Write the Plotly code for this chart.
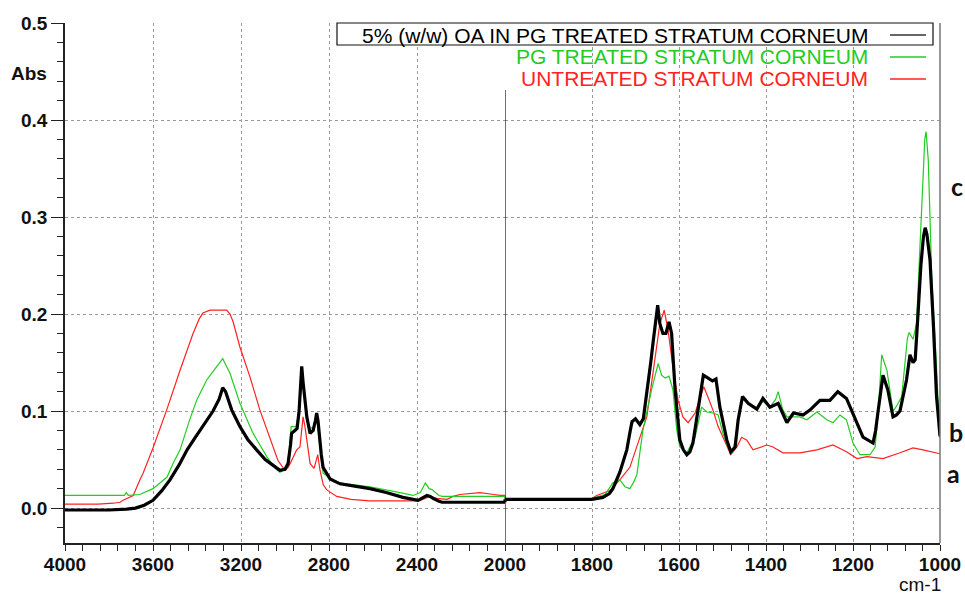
import plotly.graph_objects as go

# ---------------- data ----------------
wn_oa = [4000, 3900, 3800, 3720, 3680, 3640, 3600, 3560, 3523, 3480, 3445, 3410, 3386, 3350, 3327, 3300,
         3283, 3270, 3255, 3242, 3205, 3170, 3129, 3090, 3054, 3023, 3000, 2986, 2975, 2970, 2955, 2945,
         2936, 2928, 2924, 2918, 2913, 2901, 2886, 2872, 2862, 2856, 2850, 2845, 2835, 2827, 2810, 2795,
         2750, 2700, 2614, 2540, 2464, 2395, 2370, 2355, 2340, 2327, 2300, 2286, 2000,
         2000, 1800, 1775, 1760, 1752, 1736, 1720, 1712, 1708, 1700, 1690, 1682, 1674, 1665, 1659, 1652,
         1649, 1644, 1637, 1630, 1623, 1617, 1612, 1609, 1598, 1590, 1582, 1575, 1568, 1556, 1544, 1533,
         1523, 1515, 1506, 1490, 1481, 1471, 1464, 1454, 1441, 1421, 1407, 1391, 1372, 1362, 1352, 1337,
         1315, 1299, 1276, 1253, 1235, 1215, 1191, 1177, 1154, 1148, 1142, 1131, 1120, 1108, 1100, 1092,
         1077, 1069, 1062, 1057, 1050, 1044, 1038, 1034, 1030, 1023, 1015, 1008, 1003, 1000]
abs_oa = [-0.002, -0.002, -0.002, -0.001, 0.000, 0.003, 0.008, 0.018, 0.029, 0.045, 0.060, 0.072, 0.080, 0.092, 0.100, 0.112,
          0.124, 0.120, 0.110, 0.101, 0.084, 0.071, 0.060, 0.050, 0.044, 0.039, 0.040, 0.046, 0.065, 0.077, 0.080, 0.082,
          0.100, 0.135, 0.146, 0.130, 0.118, 0.094, 0.077, 0.080, 0.090, 0.098, 0.090, 0.077, 0.055, 0.042, 0.035, 0.030,
          0.025, 0.023, 0.020, 0.016, 0.011, 0.008, 0.011, 0.013, 0.012, 0.010, 0.007, 0.006, 0.006,
          0.009, 0.009, 0.011, 0.015, 0.020, 0.037, 0.060, 0.080, 0.089, 0.092, 0.086, 0.092, 0.118, 0.150, 0.173, 0.200,
          0.209, 0.190, 0.180, 0.180, 0.192, 0.180, 0.150, 0.122, 0.070, 0.060, 0.055, 0.058, 0.067, 0.100, 0.137, 0.134,
          0.131, 0.133, 0.104, 0.070, 0.058, 0.063, 0.091, 0.115, 0.108, 0.102, 0.113, 0.104, 0.108, 0.098, 0.088, 0.098,
          0.096, 0.101, 0.111, 0.111, 0.120, 0.113, 0.088, 0.073, 0.067, 0.080, 0.101, 0.137, 0.122, 0.094, 0.096, 0.100,
          0.132, 0.158, 0.150, 0.153, 0.204, 0.250, 0.280, 0.289, 0.282, 0.256, 0.187, 0.115, 0.090, 0.074]

wn_pg = [4000, 3800, 3730, 3722, 3712, 3660, 3600, 3536, 3509, 3477, 3432, 3400, 3356, 3320, 3283, 3270,
         3250, 3205, 3145, 3083, 3040, 3023, 2992, 2980, 2972, 2950, 2935, 2924, 2915, 2909, 2895, 2873,
         2862, 2856, 2848, 2841, 2827, 2782, 2750, 2614, 2500, 2418, 2385, 2373, 2362, 2345, 2332, 2300,
         2286, 2000,
         2000, 1800, 1770, 1752, 1736, 1724, 1713, 1705, 1697, 1683, 1663, 1648, 1640, 1632, 1623, 1614,
         1605, 1598, 1582, 1563, 1548, 1536, 1521, 1510, 1499, 1487, 1476, 1466, 1454, 1441, 1421, 1407,
         1391, 1378, 1372, 1362, 1352, 1322, 1306, 1283, 1260, 1246, 1230, 1215, 1200, 1184, 1161, 1149,
         1142, 1134, 1122, 1108, 1100, 1088, 1075, 1071, 1062, 1054, 1046, 1040, 1035, 1032, 1027, 1023,
         1019, 1011, 1005, 1000]
abs_pg = [0.013, 0.013, 0.013, 0.016, 0.013, 0.014, 0.020, 0.032, 0.046, 0.060, 0.092, 0.112, 0.132, 0.143, 0.154, 0.148,
          0.139, 0.108, 0.077, 0.053, 0.040, 0.037, 0.041, 0.060, 0.084, 0.084, 0.100, 0.129, 0.120, 0.108, 0.084, 0.082,
          0.088, 0.094, 0.080, 0.063, 0.036, 0.029, 0.026, 0.022, 0.017, 0.013, 0.016, 0.022, 0.026, 0.020, 0.019, 0.013,
          0.012, 0.012,
          0.009, 0.010, 0.014, 0.026, 0.029, 0.022, 0.020, 0.026, 0.034, 0.080, 0.122, 0.149, 0.137, 0.134, 0.136, 0.122,
          0.080, 0.063, 0.057, 0.073, 0.104, 0.099, 0.098, 0.096, 0.077, 0.062, 0.057, 0.085, 0.112, 0.108, 0.102, 0.110,
          0.104, 0.112, 0.120, 0.102, 0.094, 0.094, 0.091, 0.099, 0.091, 0.088, 0.096, 0.091, 0.067, 0.055, 0.055, 0.063,
          0.100, 0.158, 0.142, 0.100, 0.105, 0.115, 0.175, 0.181, 0.174, 0.190, 0.273, 0.342, 0.380, 0.388, 0.359, 0.300,
          0.238, 0.170, 0.108, 0.072]

wn_un = [4000, 3850, 3780, 3750, 3736, 3690, 3660, 3645, 3600, 3538, 3477, 3418, 3390, 3373, 3341, 3265,
         3250, 3236, 3205, 3159, 3114, 3068, 3032, 3000, 2985, 2970, 2947, 2932, 2918, 2910, 2901, 2886,
         2868, 2858, 2851, 2841, 2826, 2811, 2765, 2700, 2614, 2400, 2386, 2341, 2309, 2264, 2236, 2205,
         2114, 2050, 2023, 2000,
         2000, 1800, 1789, 1759, 1736, 1713, 1694, 1678, 1674, 1659, 1644, 1634, 1625, 1614, 1602, 1591,
         1579, 1563, 1552, 1543, 1533, 1522, 1510, 1494, 1481, 1467, 1456, 1444, 1430, 1398, 1384, 1361,
         1322, 1283, 1246, 1215, 1191, 1168, 1131, 1092, 1062, 1039, 1000]
abs_un = [0.004, 0.004, 0.005, 0.006, 0.008, 0.013, 0.029, 0.036, 0.062, 0.101, 0.142, 0.180, 0.195, 0.201, 0.204, 0.204,
          0.200, 0.192, 0.166, 0.135, 0.101, 0.073, 0.049, 0.039, 0.042, 0.049, 0.060, 0.063, 0.094, 0.085, 0.070, 0.046,
          0.041, 0.050, 0.055, 0.039, 0.024, 0.019, 0.012, 0.009, 0.0075, 0.0075, 0.008, 0.012, 0.010, 0.009, 0.012, 0.014,
          0.016, 0.014, 0.013, 0.013,
          0.009, 0.010, 0.013, 0.018, 0.029, 0.042, 0.067, 0.090, 0.094, 0.142, 0.190, 0.204, 0.183, 0.145, 0.111, 0.094,
          0.088, 0.098, 0.114, 0.125, 0.114, 0.101, 0.084, 0.067, 0.055, 0.063, 0.073, 0.070, 0.060, 0.065, 0.063, 0.057,
          0.057, 0.060, 0.065, 0.058, 0.051, 0.053, 0.051, 0.057, 0.062, 0.060, 0.056]

series_names = ["5% (w/w) OA IN PG TREATED STRATUM CORNEUM",
                "PG TREATED STRATUM CORNEUM",
                "UNTREATED STRATUM CORNEUM"]
curve_labels = ["c", "b", "a"]
left_ticks = [4000, 3600, 3200, 2800, 2400, 2000]
right_ticks = [1800, 1600, 1400, 1200, 1000]
y_ticks = [0.0, 0.1, 0.2, 0.3, 0.4, 0.5]

# ---------------- figure ----------------
BLACK = "#000000"
GREEN = "#22cc22"
RED = "#ff2222"
GRID = "#9a9a9a"
split = 440 / 875

fig = go.Figure()


def add_series(wn, ab, color, width):
    lx = [w for w in wn if w >= 2000]
    ly = [a for w, a in zip(wn, ab) if w >= 2000]
    rx = [w for w in wn if w <= 2000]
    ry = [a for w, a in zip(wn, ab) if w <= 2000]
    fig.add_trace(go.Scatter(x=lx, y=ly, xaxis="x", yaxis="y", mode="lines",
                             line=dict(color=color, width=width), showlegend=False, hoverinfo="skip"))
    fig.add_trace(go.Scatter(x=rx, y=ry, xaxis="x2", yaxis="y", mode="lines",
                             line=dict(color=color, width=width), showlegend=False, hoverinfo="skip"))


add_series(wn_un, abs_un, RED, 1.2)
add_series(wn_pg, abs_pg, GREEN, 1.2)
add_series(wn_oa, abs_oa, BLACK, 3.2)

tickfont = dict(family="Liberation Sans, Arial, sans-serif", size=19, color="#111111", weight="bold")

fig.update_layout(
    width=965, height=596, autosize=False,
    margin=dict(l=65, r=25, t=23, b=53, autoexpand=False),
    paper_bgcolor="white", plot_bgcolor="white",
    xaxis=dict(domain=[0, split], range=[4000, 2000], tickmode="array", tickvals=left_ticks,
               ticks="outside", ticklen=6, tickcolor="#222", showline=True, linecolor="#222", linewidth=1.5,
               showgrid=True, gridcolor=GRID, griddash="3px,3px", gridwidth=1, zeroline=False,
               minor=dict(tickmode="linear", tick0=4000, dtick=80, ticks="outside", ticklen=6,
                          tickcolor="#222", showgrid=False),
               tickfont=tickfont, ticklabelstandoff=-3, anchor="y"),
    xaxis2=dict(domain=[split, 1], range=[2000, 1000], tickmode="array", tickvals=right_ticks,
                ticks="outside", ticklen=6, tickcolor="#222", showline=True, linecolor="#222", linewidth=1.5,
                showgrid=True, gridcolor=GRID, griddash="3px,3px", gridwidth=1, zeroline=False,
                minor=dict(tickmode="linear", tick0=2000, dtick=40, ticks="outside", ticklen=6,
                           tickcolor="#222", showgrid=False),
                tickfont=tickfont, ticklabelstandoff=-3, anchor="y"),
    yaxis=dict(range=[-0.036, 0.5], tickmode="array", tickvals=y_ticks,
               ticktext=[f"{v:.1f}" for v in y_ticks],
               ticks="outside", ticklen=12, tickcolor="#222", showline=True, linecolor="#222", linewidth=1.5,
               showgrid=True, gridcolor=GRID, griddash="3px,3px", gridwidth=1, zeroline=False,
               minor=dict(tickmode="linear", tick0=0, dtick=0.02, ticks="outside", ticklen=6,
                          tickcolor="#222", showgrid=False),
               tickfont=tickfont, anchor="x"),
)

# right border and the 2000 cm-1 split line
fig.add_shape(type="line", xref="paper", yref="paper", x0=1, x1=1, y0=0, y1=1,
              line=dict(color="#777777", width=1.5))
fig.add_shape(type="line", xref="x2", yref="y", x0=2000, x1=2000, y0=-0.036, y1=0.431,
              line=dict(color="#111111", width=1.2))

# legend
legend_font = "Liberation Sans, Arial, sans-serif"
fig.add_shape(type="rect", xref="paper", yref="paper", x0=(337 - 65) / 875, x1=(933 - 65) / 875,
              y0=(543 - 45) / 520, y1=1, line=dict(color="#111111", width=1.2), fillcolor="white")
leg_y = [(543 - 35) / 520, (543 - 57) / 520, (543 - 79) / 520]
for name, color, yy in zip(series_names, [BLACK, GREEN, RED], leg_y):
    fig.add_annotation(xref="paper", yref="paper", x=(870 - 65) / 875, y=yy, text=name,
                       showarrow=False, xanchor="right", yanchor="middle",
                       font=dict(family=legend_font, size=21, color=color))
    fig.add_shape(type="line", xref="paper", yref="paper", x0=(890 - 65) / 875, x1=(926 - 65) / 875,
                  y0=yy, y1=yy, line=dict(color="#333333" if color == BLACK else color, width=1.5))

# curve labels a, b, c
for lab, px, py in zip(curve_labels, [957, 956, 953], [186, 432, 473]):
    fig.add_annotation(xref="paper", yref="paper", x=(px - 65) / 875, y=(543 - py) / 520, text=f"<b>{lab}</b>",
                       showarrow=False, xanchor="center", yanchor="middle",
                       font=dict(family="Lato, Open Sans, sans-serif", size=25, color="#111111"))

# axis captions
fig.add_annotation(xref="paper", yref="paper", x=(29 - 65) / 875, y=(543 - 73) / 520, text="<b>Abs</b>",
                   showarrow=False, xanchor="center", yanchor="middle",
                   font=dict(family="Liberation Sans, Arial, sans-serif", size=19, color="#111111"))
fig.add_annotation(xref="paper", yref="paper", x=(920 - 65) / 875, y=(543 - 584) / 520, text="cm-1",
                   showarrow=False, xanchor="center", yanchor="middle",
                   font=dict(family="Liberation Sans, Arial, sans-serif", size=19, color="#111111"))

fig.write_html("out.html")
